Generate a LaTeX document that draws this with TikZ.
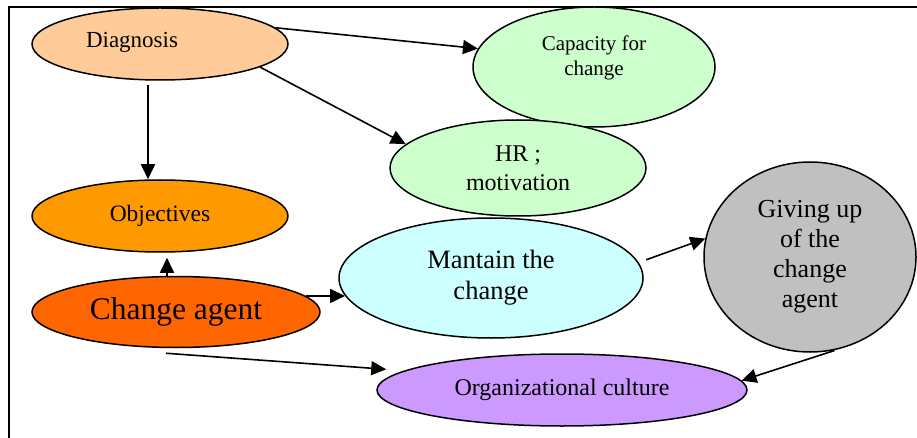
\documentclass[tikz,border=0pt]{standalone}
\usepackage{fontspec}
\setmainfont{Liberation Serif}
\usetikzlibrary{shapes.geometric,arrows.meta,calc}

\definecolor{diagcol}{HTML}{FFCC99}
\definecolor{greencol}{HTML}{CCFFCC}
\definecolor{objcol}{HTML}{FF9900}
\definecolor{agentcol}{HTML}{FF6600}
\definecolor{keepcol}{HTML}{CCFFFF}
\definecolor{givecol}{HTML}{C0C0C0}
\definecolor{culturecol}{HTML}{CC99FF}

\begin{document}
\begin{tikzpicture}[x=1pt,y=-1pt,
    bubble/.style={ellipse,draw,line width=1.5pt,inner sep=0pt,align=center},
    arr/.style={-{Triangle[length=15pt,width=14pt]},line width=1.6pt}]
    \useasboundingbox (0,0) rectangle (917,438);
    \draw[line width=1.6pt] (9,438) -- (9,7) -- (917,7);

    % bubbles
    \node[bubble,fill=diagcol,minimum width=256pt,minimum height=72pt] (diag) at (160,44) {};
    \node[font=\fontsize{23}{28}\selectfont] (diagtext) at (132,42) {Diagnosis};
    \node[bubble,fill=greencol,minimum width=242pt,minimum height=120pt] (cap) at (594,67) {};
    \node[font=\fontsize{21}{25}\selectfont,align=center] (captext) at (594,58) {Capacity for\\change};
    \node[bubble,fill=greencol,minimum width=256pt,minimum height=96pt,
          font=\fontsize{24}{29}\selectfont] (hr) at (518,168) {HR ;\\motivation};
    \node[bubble,fill=objcol,minimum width=256pt,minimum height=72pt,
          font=\fontsize{23.5}{28}\selectfont] (obj) at (160,216) {Objectives};
    \node[bubble,fill=agentcol,minimum width=288pt,minimum height=71pt,
          font=\fontsize{31.5}{36}\selectfont] (agent) at (176,312) {Change agent};
    \node[bubble,fill=keepcol,minimum width=304pt,minimum height=120pt,
          font=\fontsize{26.5}{31}\selectfont] (keep) at (491,278) {Mantain the\\change};
    \node[bubble,fill=givecol,minimum width=212pt,minimum height=190pt,
          font=\fontsize{26}{30}\selectfont] (give) at (810,257) {Giving up\\of the\\change\\agent};
    \node[bubble,fill=culturecol,minimum width=370pt,minimum height=72pt,
          font=\fontsize{24}{29}\selectfont] (culture) at (562,390) {Organizational culture};

    % arrows
    \draw[arr] (diag.8) -- (cap.171);
    \draw[arr] (diag.-13) -- (hr.168);
    \draw[arr,shorten <=4pt] ([xshift=-12pt]diag.south) -- ([xshift=-12pt]obj.north);
    \draw[arr,shorten >=5pt] ([xshift=-9pt]agent.north) -- ([xshift=7pt]obj.south);
    \draw[arr] (agent.7) -- (keep.187);
    \draw[arr,shorten >=18pt] ($(agent.south)+(-10,5)$) -- (culture.173);
    \draw[arr,shorten <=8pt] (keep.6) -- (give.170);
    \draw[arr,shorten <=4pt] (give.-73) -- (culture.3);
\end{tikzpicture}
\end{document}
